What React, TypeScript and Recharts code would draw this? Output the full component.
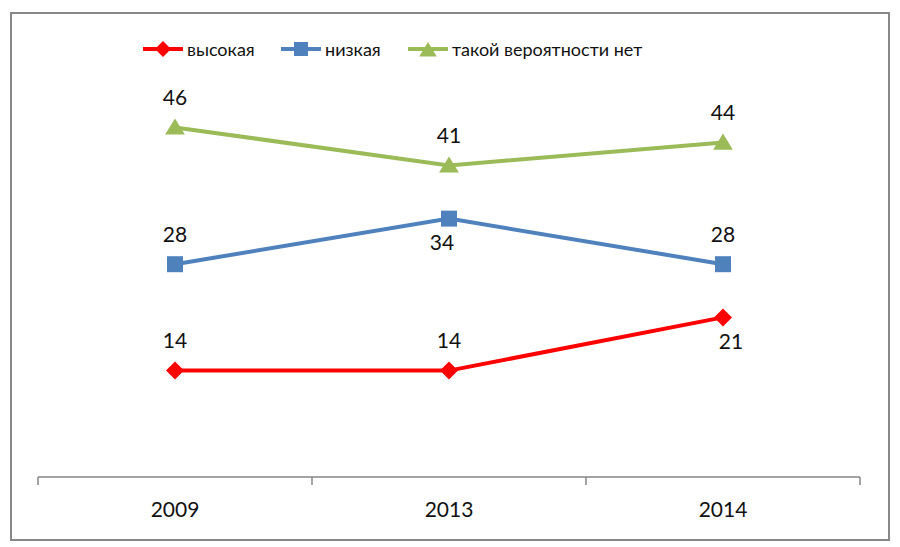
import { LabelList, Line, LineChart, XAxis, YAxis } from "recharts";

const YEARS = ["2009", "2013", "2014"];
const HIGH = [14, 14, 21];
const LOW = [28, 34, 28];
const NONE = [46, 41, 44];

const W = 900;
const H = 547;
const PLOT_LEFT = 38;
const PLOT_RIGHT = 860;
const BAND = (PLOT_RIGHT - PLOT_LEFT) / YEARS.length;
const FONT = "Lato, 'Open Sans', 'Noto Sans', sans-serif";

type Shape = "diamond" | "square" | "triangle";

const SERIES: {
  key: string;
  name: string;
  color: string;
  shape: Shape;
  labelPos: ("above" | "below")[];
  labelDx: number[];
}[] = [
  { key: "none", name: "такой вероятности нет", color: "#9bbb59", shape: "triangle", labelPos: ["above", "above", "above"], labelDx: [0, 0, 0] },
  { key: "low", name: "низкая", color: "#4f81bd", shape: "square", labelPos: ["above", "below", "above"], labelDx: [0, -7, 0] },
  { key: "high", name: "высокая", color: "#ff0000", shape: "diamond", labelPos: ["above", "above", "below"], labelDx: [0, 0, 8] },
];

const data = YEARS.map((year, i) => ({
  year,
  high: HIGH[i],
  low: LOW[i],
  none: NONE[i],
}));

function markerPath(shape: Shape, cx: number, cy: number, s: number) {
  if (shape === "diamond") {
    return `M${cx},${cy - s}L${cx + s},${cy}L${cx},${cy + s}L${cx - s},${cy}Z`;
  }
  if (shape === "square") {
    return `M${cx - s},${cy - s}H${cx + s}V${cy + s}H${cx - s}Z`;
  }
  return `M${cx},${cy - s}L${cx + s * 1.1},${cy + s * 0.8}L${cx - s * 1.1},${cy + s * 0.8}Z`;
}

function YearTick(props: any) {
  const { x, y, payload, index } = props;
  const half = BAND / 2;
  const ay = y - 8;
  return (
    <g>
      {index === 0 && (
        <line x1={x - half} x2={x - half} y1={ay} y2={ay + 8} stroke="#868686" strokeWidth={1.5} />
      )}
      <line x1={x + half} x2={x + half} y1={ay} y2={ay + 8} stroke="#868686" strokeWidth={1.5} />
      <text x={x} y={y + 32} textAnchor="middle" fill="#111" fontSize={21} fontFamily={FONT}>
        {payload.value}
      </text>
    </g>
  );
}

function LegendIcon({ color, shape }: { color: string; shape: Shape }) {
  return (
    <svg width={42} height={20} style={{ display: "block" }}>
      <line x1={1} x2={41} y1={10} y2={10} stroke={color} strokeWidth={4} />
      <path d={markerPath(shape, 21, shape === "triangle" ? 11 : 10, shape === "square" ? 7 : 8)} fill={color} />
    </svg>
  );
}

const LEGEND_LEFT = [407, 280, 142];

export default function App() {
  return (
    <div style={{ position: "absolute", left: 0, top: 0, width: W, height: H, background: "#fff" }}>
      <div
        style={{
          position: "absolute",
          left: 10,
          top: 12,
          width: 880,
          height: 529,
          boxSizing: "border-box",
          border: "2px solid #888",
        }}
      />
      {SERIES.map((s, i) => (
        <div
          key={s.key}
          style={{
            position: "absolute",
            left: LEGEND_LEFT[i],
            top: 38,
            display: "flex",
            alignItems: "center",
            gap: 3,
            fontFamily: FONT,
            fontSize: 18,
            color: "#111",
            whiteSpace: "nowrap",
          }}
        >
          <LegendIcon color={s.color} shape={s.shape} />
          <span>{s.name}</span>
        </div>
      ))}
      <div style={{ position: "absolute", left: 0, top: 0 }}>
        <LineChart
          width={W}
          height={H}
          data={data}
          margin={{ top: 97, right: W - PLOT_RIGHT, bottom: 30, left: PLOT_LEFT }}
        >
          <XAxis
            dataKey="year"
            height={40}
            padding={{ left: BAND / 2, right: BAND / 2 }}
            axisLine={{ stroke: "#868686", strokeWidth: 1.5 }}
            tickLine={false}
            tick={<YearTick />}
            interval={0}
          />
          <YAxis hide domain={[0, 50]} />
          {SERIES.map((s) => (
            <Line
              key={s.key}
              dataKey={s.key}
              name={s.name}
              stroke={s.color}
              strokeWidth={4}
              isAnimationActive={false}
              dot={(p: any) => (
                <path
                  key={`${s.key}-${p.index}`}
                  d={markerPath(s.shape, p.cx, p.cy, s.shape === "square" ? 8 : 9)}
                  fill={s.color}
                />
              )}
              activeDot={false}
            >
              <LabelList
                dataKey={s.key}
                content={(p: any) => {
                  const below = s.labelPos[p.index] === "below";
                  return (
                    <text
                      key={`${s.key}-l-${p.index}`}
                      x={p.x + s.labelDx[p.index]}
                      y={below ? p.y + 23 : p.y - 31}
                      textAnchor="middle"
                      dominantBaseline="central"
                      fill="#111"
                      fontSize={21}
                      fontFamily={FONT}
                    >
                      {p.value}
                    </text>
                  );
                }}
              />
            </Line>
          ))}
        </LineChart>
      </div>
    </div>
  );
}
